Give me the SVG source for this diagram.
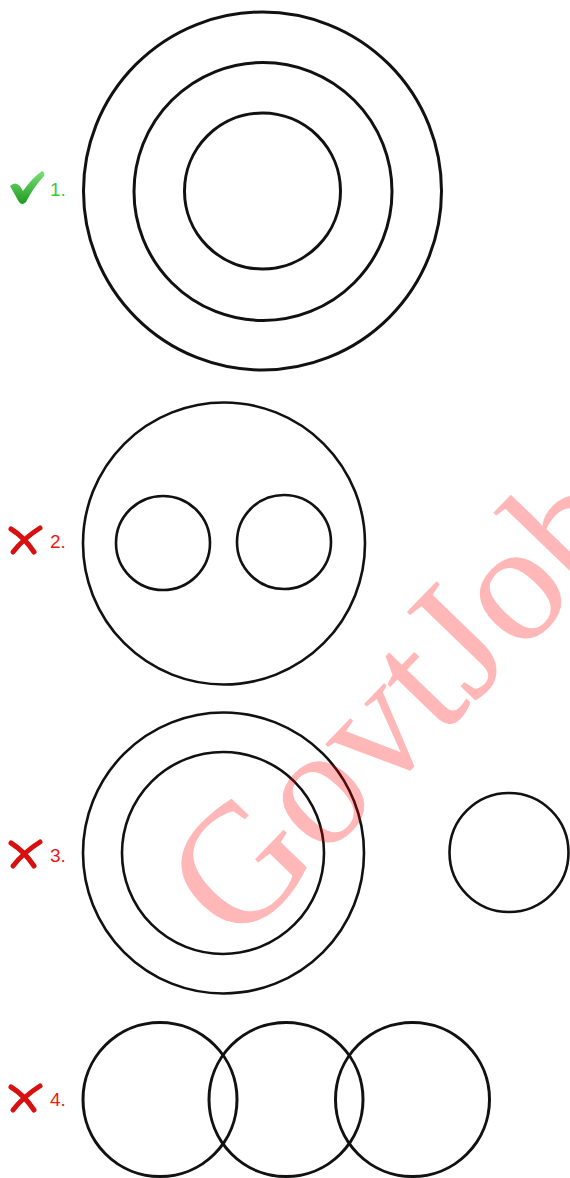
<svg xmlns="http://www.w3.org/2000/svg" width="570" height="1178" viewBox="0 0 570 1178">
<style>
.c{fill:none;stroke:#111;stroke-width:3}
.c2{fill:none;stroke:#111;stroke-width:2.6}
.lbl{font-family:"Liberation Sans",Arial,sans-serif;font-size:19px}
.ok{fill:#3cc83c}
.no{fill:#f01818}
.x{fill:none;stroke:#d81010;stroke-width:5;stroke-linecap:round}
.wm{font-family:"Liberation Serif","Times New Roman",serif;font-size:170px;fill:#f00;opacity:0.28}
</style>
<defs>
<linearGradient id="g" x1="0" y1="0" x2="0" y2="1">
<stop offset="0" stop-color="#7ee07a"/>
<stop offset="1" stop-color="#1d9a20"/>
</linearGradient>
</defs>
<rect width="570" height="1178" fill="#fff"/>
<g id="fig1">
<circle class="c" cx="262.5" cy="191" r="179"/>
<circle class="c" cx="263" cy="191.5" r="129"/>
<circle class="c" cx="262.5" cy="191" r="78"/>
<path d="M10 186 Q15 181 20 186 L23 191 Q32 178 42 171 Q45 172 44 176 Q33 188 26 202 Q22 206 19 202 Z" fill="url(#g)"/>
<text class="lbl ok" x="50" y="196">1.</text>
</g>
<g id="fig2">
<circle class="c2" cx="224" cy="543.5" r="141"/>
<circle class="c2" cx="163" cy="543" r="47"/>
<circle class="c2" cx="284" cy="542" r="47"/>
<path class="x" d="M11 529 Q24 537 34 552 M40 528 Q24 538 13 552"/>
<text class="lbl no" x="50" y="548">2.</text>
</g>
<g id="fig3">
<circle class="c2" cx="223.5" cy="853" r="140.5"/>
<circle class="c2" cx="223" cy="853" r="101"/>
<circle class="c2" cx="509" cy="852.5" r="59.5"/>
<path class="x" d="M11 843 Q24 851 34 866 M40 842 Q24 852 13 866"/>
<text class="lbl no" x="50" y="862">3.</text>
</g>
<g id="fig4">
<circle class="c" cx="160" cy="1099.5" r="77"/>
<circle class="c" cx="286" cy="1099.5" r="77"/>
<circle class="c" cx="412.5" cy="1099.5" r="77"/>
<path class="x" d="M11 1087 Q24 1095 34 1110 M40 1086 Q24 1096 13 1110"/>
<text class="lbl no" x="50" y="1106">4.</text>
</g>
<text class="wm" transform="translate(237,948) rotate(-46)">GovtJob</text>
</svg>
